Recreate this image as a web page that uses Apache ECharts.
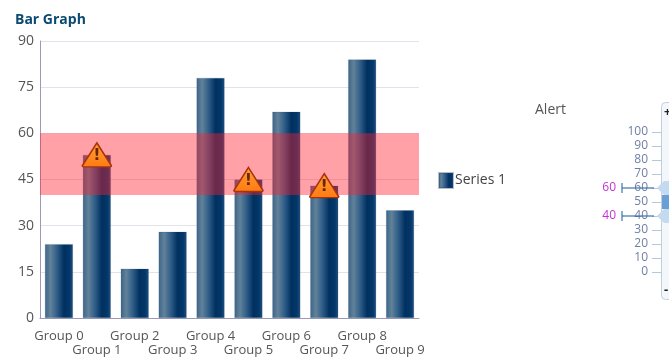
<!DOCTYPE html>
<html><head><meta charset="utf-8">
<style>html,body{margin:0;padding:0;background:#fff}#c{width:669px;height:358px}</style>
<script src="https://cdn.jsdelivr.net/npm/echarts@6/dist/echarts.min.js"></script>
</head><body><div id="c"></div>
<script>
const categories=['Group 0','Group 1','Group 2','Group 3','Group 4','Group 5','Group 6','Group 7','Group 8','Group 9'];
const seriesValues=[24,53,16,28,78,45,67,43,84,35];
const alertPoints=[['Group 1',53],['Group 5',45],['Group 7',43]];
const bandRange=[40,60];
const sliderThresholds=[60,40];
const FONT='"Open Sans","Noto Sans",sans-serif';
const barFill={type:'linear',x:0,y:0,x2:1,y2:0,colorStops:[
 {offset:0,color:'#3d6489'},{offset:0.2,color:'#618299'},{offset:0.45,color:'#2c5a87'},
 {offset:0.68,color:'#00305f'},{offset:0.88,color:'#03386b'},{offset:1,color:'#234f7b'}]};
const tri='path://M12.5 0 L25 21 Q25 22 24 22 L1 22 Q0 22 0 21 Z';
const chart=echarts.init(document.getElementById('c'),null,{renderer:'canvas'});
chart.setOption({
 animation:false,
 title:[{text:'Bar Graph',left:15,top:13,padding:0,textStyle:{fontFamily:FONT,fontSize:14,fontWeight:'bold',color:'#0b4a72'}},
        {text:'Alert',left:535,top:103,padding:0,textStyle:{fontFamily:FONT,fontSize:14,fontWeight:'normal',color:'#555'}}],
 legend:{data:['Series 1'],left:438,top:172,padding:0,itemWidth:14,itemHeight:15,itemGap:3,icon:'rect',
   textStyle:{fontFamily:FONT,fontSize:14,color:'#444',padding:[0,0,0,-3]}},
 grid:[{left:40,top:41,width:379,height:277},{left:652,top:132,width:17,height:140}],
 xAxis:[{type:'category',gridIndex:0,data:categories,
   axisLine:{lineStyle:{color:'#9a9ab8',width:1}},axisTick:{show:false},
   axisLabel:{interval:0,margin:11,lineHeight:14,fontFamily:FONT,fontSize:13,color:'#555',
     formatter:(v,i)=>i%2?'\n'+v:v+'\n'}},
  {type:'value',gridIndex:1,min:0,max:1,show:false}],
 yAxis:[{type:'value',gridIndex:0,min:0,max:90,interval:15,
   axisLine:{show:true,lineStyle:{color:'#9a9ab8',width:1}},axisTick:{show:false},
   splitLine:{lineStyle:{color:'#e2e2ec',width:1}},
   axisLabel:{fontFamily:FONT,fontSize:14,color:'#555',margin:6}},
  {type:'value',gridIndex:1,min:0,max:100,interval:10,
   axisLine:{show:false},axisTick:{show:true,length:9,inside:true,lineStyle:{color:'#b5c9de'}},
   splitLine:{show:false},
   axisLabel:{inside:false,fontFamily:FONT,fontSize:12,color:'#6f7fa3',margin:4}}],
 graphic:[{type:'rect',z:0,shape:{x:661.5,y:102.5,width:30,height:197,r:4},style:{fill:'#f3f6fa',stroke:'#c3cfdd'}},
  {type:'text',z:5,x:664,y:107,style:{text:'+',fontFamily:FONT,fontWeight:'bold',fontSize:12,fill:'#222'}},
  {type:'text',z:5,x:664,y:284,style:{text:'-',fontFamily:FONT,fontWeight:'bold',fontSize:13,fill:'#222'}}],
 series:[
  {name:'Series 1',type:'bar',xAxisIndex:0,yAxisIndex:0,data:seriesValues,barWidth:28,z:2,
   itemStyle:{color:barFill,borderColor:'rgba(40,70,110,0.35)',borderWidth:0.5}},
  {type:'line',xAxisIndex:0,yAxisIndex:0,data:[],z:4,silent:true,
   markArea:{silent:true,z:4,itemStyle:{color:'rgba(255,30,45,0.42)'},
     data:[[{yAxis:bandRange[0]},{yAxis:bandRange[1]}]]}},
  {type:'scatter',xAxisIndex:0,yAxisIndex:0,data:alertPoints,symbol:tri,symbolSize:[29,24],z:20,
   itemStyle:{opacity:1,color:{type:'linear',x:0,y:0,x2:0,y2:1,colorStops:[{offset:0,color:'#ffa032'},{offset:1,color:'#ff7a12'}]},
     borderColor:'#a8320f',borderWidth:1.5},
   label:{show:true,position:'inside',offset:[0,1],formatter:'!',fontFamily:'"DejaVu Sans"',fontSize:16,fontWeight:'bold',color:'#6b2408'}},
  {type:'custom',xAxisIndex:1,yAxisIndex:1,z:5,silent:true,clip:false,data:[bandRange],
   encode:{y:[0,1]},
   renderItem:(p,api)=>{
    const hi=api.coord([0,sliderThresholds[0]])[1],lo=api.coord([0,sliderThresholds[1]])[1];
    const hex=y=>({type:'polygon',shape:{points:[[657,y],[664,y-7],[669,y-7],[669,y+7],[664,y+7]]},style:{fill:'#c4daf1'}});
    const mk=y=>[{type:'line',shape:{x1:622,y1:y,x2:654,y2:y},style:{stroke:'#3f74ac',lineWidth:1.2}},
      {type:'line',shape:{x1:622,y1:y-5,x2:622,y2:y+5},style:{stroke:'#3f74ac',lineWidth:1.2}}];
    return {type:'group',children:[
      {type:'rect',shape:{x:662,y:hi+7,width:7,height:lo-hi-14},style:{fill:'#6a9fd5'}},
      hex(hi),hex(lo),...mk(hi),...mk(lo),
      {type:'text',x:616,y:hi,style:{text:String(sliderThresholds[0]),align:'right',verticalAlign:'middle',fontFamily:FONT,fontSize:12,fill:'#c730d2'}},
      {type:'text',x:616,y:lo,style:{text:String(sliderThresholds[1]),align:'right',verticalAlign:'middle',fontFamily:FONT,fontSize:12,fill:'#c730d2'}}
    ]};
   }}
 ]
});
</script></body></html>
